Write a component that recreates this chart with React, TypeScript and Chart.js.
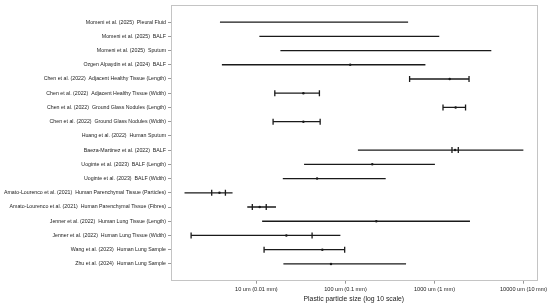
import React, { useEffect, useRef } from "react";
import { Chart, registerables } from "chart.js";

Chart.register(...registerables);

const categories = [
  "Momeni et al. (2025)  Pleural Fluid",
  "Momeni et al. (2025)  BALF",
  "Momeni et al. (2025)  Sputum",
  "Ozgen Alpaydin et al. (2024)  BALF",
  "Chen et al. (2022)  Adjacent Healthy Tissue (Length)",
  "Chen et al. (2022)  Adjacent Healthy Tissue (Width)",
  "Chen et al. (2022)  Ground Glass Nodules (Length)",
  "Chen et al. (2022)  Ground Glass Nodules (Width)",
  "Huang et al. (2022)  Human Sputum",
  "Baeza-Martinez et al. (2022)  BALF",
  "Uoginte et al. (2023)  BALF (Length)",
  "Uoginte et al. (2023)  BALF (Width)",
  "Amato-Lourenco et al. (2021)  Human Parenchymal Tissue (Particles)",
  "Amato-Lourenco et al. (2021)  Human Parenchymal Tissue (Fibres)",
  "Jenner et al. (2022)  Human Lung Tissue (Length)",
  "Jenner et al. (2022)  Human Lung Tissue (Width)",
  "Wang et al. (2023)  Human Lung Sample",
  "Zhu et al. (2024)  Human Lung Sample",
];

const rangeMin = [3.9, 10.8, 18.6, 4.1, 525, 16.1, 1245, 15.4, null, 138, 34.3, 19.8, 1.56, 7.9, 11.6, 1.85, 12.2, 20.1];
const rangeMax = [505, 1130, 4340, 790, 2440, 51, 2230, 52, null, 9940, 1010, 283, 5.4, 16.6, 2500, 87.7, 98, 479];
const centerValues = [null, null, null, 113, 1480, 33.7, 1726, 33.7, null, 1700, 200, 48, 3.85, 10.9, 222, 21.7, 55, 68.8];
const capLow = [null, null, null, null, 525, 16.1, 1245, 15.4, null, 1570, null, null, 3.15, 9.0, null, 1.85, 12.2, null];
const capHigh = [null, null, null, null, 2440, 51, 2230, 52, null, 1849, null, null, 4.49, 12.9, null, 42.2, 98, null];

const xTickValues = [10, 100, 1000, 10000];
const xTickLabels = ["10 um (0.01 mm)", "100 um (0.1 mm)", "1000 um (1 mm)", "10000 um (10 mm)"];
const xTitle = "Plastic particle size (log 10 scale)";

const INK = "#1a1a1a";

const framePlugin = {
  id: "frame",
  afterDraw(chart: any) {
    const { ctx, chartArea } = chart;
    ctx.save();
    ctx.strokeStyle = "#c4c4c4";
    ctx.lineWidth = 1;
    ctx.strokeRect(
      Math.round(chartArea.left) + 0.5,
      Math.round(chartArea.top) + 0.5,
      Math.round(chartArea.right - chartArea.left),
      Math.round(chartArea.bottom - chartArea.top)
    );
    ctx.restore();
  },
};

export default function App() {
  const ref = useRef<HTMLCanvasElement | null>(null);

  useEffect(() => {
    if (!ref.current) return;
    const datasets: any[] = [];
    categories.forEach((_, i) => {
      const lo = rangeMin[i];
      const hi = rangeMax[i];
      if (lo == null || hi == null) return;
      datasets.push({
        data: [
          { x: lo, y: i },
          { x: hi, y: i },
        ],
        showLine: true,
        borderColor: INK,
        borderWidth: 1.3,
        pointRadius: 0,
      });
    });
    const caps: any[] = [];
    categories.forEach((_, i) => {
      if (capLow[i] != null) caps.push({ x: capLow[i], y: i });
      if (capHigh[i] != null) caps.push({ x: capHigh[i], y: i });
    });
    datasets.push({
      data: caps,
      pointStyle: "line",
      rotation: 90,
      pointRadius: 3,
      borderColor: INK,
      borderWidth: 1.3,
      showLine: false,
    });
    const dots: any[] = [];
    categories.forEach((_, i) => {
      if (centerValues[i] != null) dots.push({ x: centerValues[i], y: i });
    });
    datasets.push({
      data: dots,
      pointStyle: "circle",
      pointRadius: 1.25,
      backgroundColor: INK,
      borderWidth: 0,
      showLine: false,
    });

    const chart = new Chart(ref.current, {
      type: "scatter",
      data: { datasets },
      plugins: [framePlugin],
      options: {
        animation: false,
        responsive: false,
        events: [],
        layout: { padding: { top: 3, right: 13.3, left: 0, bottom: 0 } },
        plugins: { legend: { display: false }, tooltip: { enabled: false } },
        scales: {
          x: {
            type: "logarithmic",
            min: 1.1,
            max: 14000,
            afterBuildTicks: (scale: any) => {
              scale.ticks = xTickValues.map((v) => ({ value: v }));
            },
            afterFit: (scale: any) => {
              scale.height = 25.3;
            },
            border: { display: false },
            grid: { display: true, drawOnChartArea: false, tickLength: 3, tickColor: "#999", tickWidth: 1 },
            ticks: {
              autoSkip: false,
              maxRotation: 0,
              padding: 2.3,
              color: "#222",
              font: { family: "Liberation Sans", size: 5.6 },
              callback: (v: any) => {
                const idx = xTickValues.indexOf(Number(v));
                return idx >= 0 ? xTickLabels[idx] : "";
              },
            },
            title: {
              display: true,
              text: xTitle,
              color: "#222",
              padding: { top: 0, bottom: 3 },
              font: { family: "Liberation Sans", size: 6.8 },
            },
          },
          y: {
            type: "linear",
            reverse: true,
            min: -1.18,
            max: 18.18,
            afterBuildTicks: (scale: any) => {
              scale.ticks = categories.map((_, i) => ({ value: i }));
            },
            afterFit: (scale: any) => {
              scale.width = 171;
            },
            border: { display: false },
            grid: { display: true, drawOnChartArea: false, tickLength: 3, tickColor: "#999", tickWidth: 1 },
            ticks: {
              autoSkip: false,
              padding: 2,
              color: "#222",
              font: { family: "Liberation Sans", size: 5.25 },
              callback: (v: any) => {
                const i = Number(v);
                return Number.isInteger(i) && i >= 0 && i < categories.length ? categories[i] : "";
              },
            },
          },
        },
      },
    });
    return () => chart.destroy();
  }, []);

  return (
    <div style={{ position: "fixed", left: 0, top: 0, width: 550, height: 306, background: "#fff" }}>
      <canvas ref={ref} width={550} height={306} style={{ display: "block" }} />
    </div>
  );
}
